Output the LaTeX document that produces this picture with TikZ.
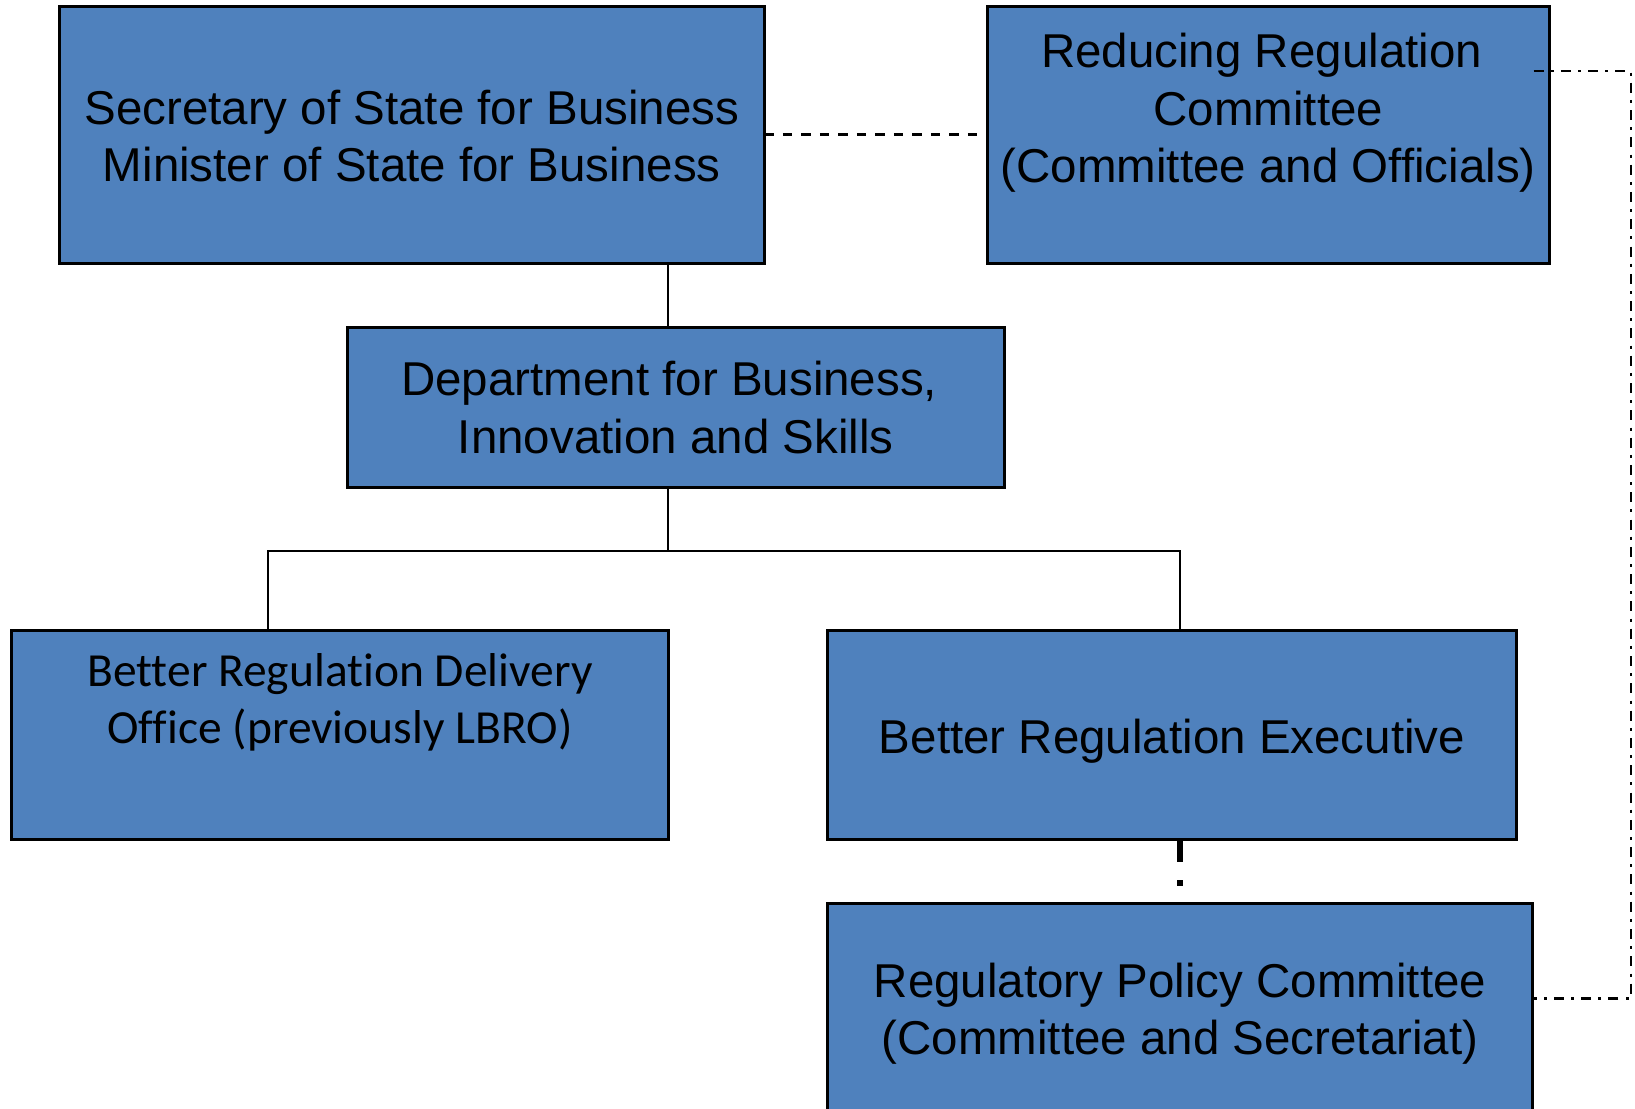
\documentclass[tikz,border=0pt]{standalone}
\usepackage{fontspec}
\setmainfont{Liberation Sans}
\newfontfamily\calibrifont[Ligatures=NoCommon]{Carlito}
\definecolor{boxblue}{HTML}{4F81BD}
\begin{document}
\begin{tikzpicture}[x=0.5pt,y=-0.5pt,
  box/.style={draw=black, line width=1.5pt, fill=boxblue, outer sep=0pt, inner sep=0pt},
  conn/.style={line width=1pt},
  dashline/.style={line width=1.3pt, dash pattern=on 4.75pt off 4.5pt},
  dashdotline/.style={line width=1.3pt, dash pattern=on 5pt off 3.6pt on 1.5pt off 3.55pt},
  thickdash/.style={line width=3pt, dash pattern=on 11.5pt off 9pt on 3pt off 20pt},
  txt/.style={anchor=base, inner sep=0pt, font=\fontsize{23.75}{28.85}\selectfont},
  ctxt/.style={anchor=base, inner sep=0pt, font=\calibrifont\fontsize{23.75}{28.65}\selectfont},
]
\useasboundingbox (0,0) rectangle (1635,1109);
\clip (0,0) rectangle (1635,1109);

% boxes
\node[box, minimum width=352.5pt, minimum height=128.25pt] (sos) at (411.8,134.75) {};
\node[box, minimum width=280.75pt, minimum height=128.25pt] (rrc) at (1268.25,134.75) {};
\node[box, minimum width=328.5pt, minimum height=80pt] (bis) at (675.8,407.3) {};
\node[box, minimum width=328.25pt, minimum height=104.45pt] (brdo) at (339.75,734.95) {};
\node[box, minimum width=344.15pt, minimum height=104.45pt] (bre) at (1171.85,734.95) {};
\node[box, minimum width=352.15pt, minimum height=116pt] (rpc) at (1179.85,1019) {};

% texts
\node[txt] (sostext) at (411.8,124) {\begin{tabular}[t]{@{}c@{}}Secretary of State for Business\\Minister of State for Business\end{tabular}};
\node[txt] (rrctext) at (1268.25,67.5) {\begin{tabular}[t]{@{}c@{}}Reducing Regulation\kern0.278em\\Committee\\(Committee and Officials)\end{tabular}};
\node[txt] (bistext) at (675.8,395.7) {\begin{tabular}[t]{@{}c@{}}Department for Business,\kern0.278em\\Innovation and Skills\end{tabular}};
\node[ctxt] (brdotext) at (340,686) {\begin{tabular}[t]{@{}c@{}}Better Regulation Delivery\\Office (previously LBRO)\end{tabular}};
\node[txt] (bretext) at (1172,753) {Better Regulation Executive};
\node[txt] (rpctext) at (1180,997) {\begin{tabular}[t]{@{}c@{}}Regulatory Policy Committee\\(Committee and Secretariat)\end{tabular}};

% connector points
\coordinate (trunk) at (668,551);
\coordinate (lb) at (267.7,551);
\coordinate (rb) at (1179.7,551);
\coordinate (ddstart) at (1533.5,71);
\coordinate (ddcorner) at (1631,71);
\coordinate (ddbot) at (1631,998.3);

% solid tree connectors
\draw[conn] (sos.south -| trunk) -- (bis.north -| trunk);
\draw[conn] (bis.south -| trunk) -- (trunk);
\draw[conn] (lb |- brdo.north) -- (lb) -- (rb) -- (rb |- bre.north);

% dashed link
\draw[dashline] (sos.east) -- (rrc.west);

% dash-dot link
\draw[dashdotline] (ddstart) -- (ddcorner) -- (ddbot) -- (rpc.east |- ddbot);

% thick dash-dot between BRE and RPC
\draw[thickdash] (bre.south -| rpc.north) -- (rpc.north);
\end{tikzpicture}
\end{document}
